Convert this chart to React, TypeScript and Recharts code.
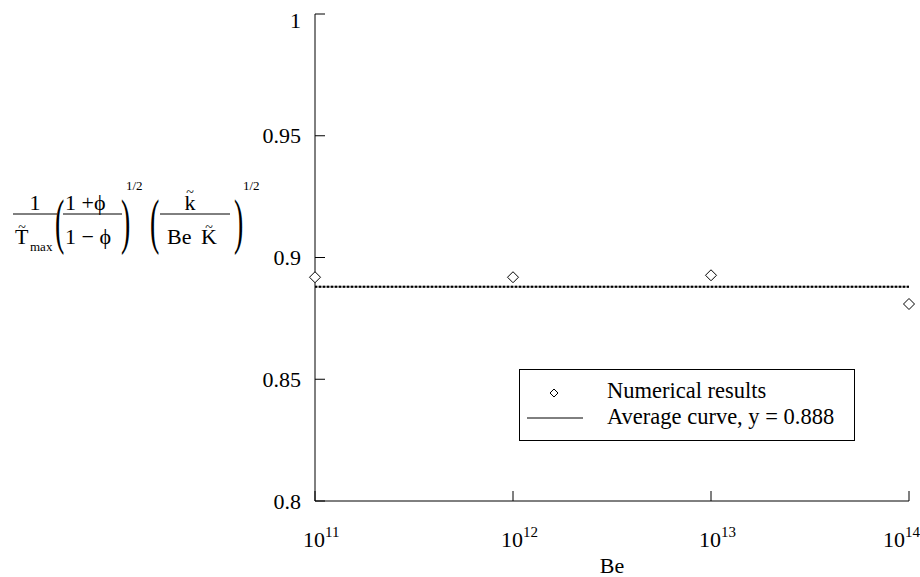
import { ComposedChart, Legend, Line, Scatter, XAxis, YAxis } from "recharts";

const beValues = [1e11, 1e12, 1e13, 1e14];
const numericalResults = [0.8919, 0.8919, 0.8927, 0.8809];
const averageValue = 0.888;
const xTicks = [1e11, 1e12, 1e13, 1e14];
const xTickExponents = ["11", "12", "13", "14"];
const yTicks = [0.8, 0.85, 0.9, 0.95, 1];
const yTickLabels = ["0.8", "0.85", "0.9", "0.95", "1"];

const data = beValues.map((be, i) => ({ be, value: numericalResults[i], avg: averageValue }));

const FONT = '"Liberation Serif", "Times New Roman", Times, "DejaVu Serif", serif';
const serif = { fontFamily: FONT };
const W = 920;
const H = 577;

function diamond(cx: number, cy: number, rx: number, ry: number) {
  return `M${cx},${cy - ry}L${cx + rx},${cy}L${cx},${cy + ry}L${cx - rx},${cy}Z`;
}

function BottomTick(props: any) {
  const { x, y, index } = props;
  const exp = xTickExponents[index] ?? "";
  const start = Math.min(x - 12, W - 37);
  return (
    <g>
      <line x1={x} y1={y} x2={x} y2={y - 10} stroke="#000" />
      <text x={start} y={y + 46} style={serif} fontSize={22} fill="#000">
        10
        <tspan dy={-10} fontSize={15}>{exp}</tspan>
      </text>
    </g>
  );
}

function TopTick(props: any) {
  const { x, y } = props;
  return <line x1={x} y1={y} x2={x} y2={y + 10} stroke="#000" />;
}

function LeftTick(props: any) {
  const { x, y, index } = props;
  const baseline = index === yTicks.length - 1 ? 28 : y + 7.5;
  return (
    <g>
      <line x1={x} y1={y} x2={x + 10} y2={y} stroke="#000" />
      <text x={x - 14} y={baseline} textAnchor="end" style={serif} fontSize={22} fill="#000">
        {yTickLabels[index]}
      </text>
    </g>
  );
}

function RightTick(props: any) {
  const { x, y } = props;
  return <line x1={x} y1={y} x2={x - 10} y2={y} stroke="#000" />;
}

function Paren({ x, y, close }: { x: number; y: number; close?: boolean }) {
  return (
    <text transform={`translate(${x},${y}) scale(0.45,1)`} style={serif} fontSize={62} fill="#000">
      {close ? ")" : "("}
    </text>
  );
}

// y-axis label: 1/T~max ((1+phi)/(1-phi))^1/2 (k~/(Be K~))^1/2
function FormulaLabel() {
  const t = { style: serif, fill: "#000" };
  return (
    <g>
      <text x={35} y={210} textAnchor="middle" fontSize={22} {...t}>1</text>
      <line x1={13} y1={214} x2={57} y2={214} stroke="#000" />
      <text x={22} y={232} textAnchor="middle" fontSize={14} {...t}>~</text>
      <text x={15} y={244} fontSize={22} {...t}>T</text>
      <text x={30} y={251} fontSize={13} {...t}>max</text>

      <Paren x={55} y={242} />
      <text x={65} y={210} fontSize={22} {...t}>1 +ϕ</text>
      <line x1={63} y1={214} x2={122} y2={214} stroke="#000" />
      <text x={65} y={244} fontSize={22} {...t}>1 − ϕ</text>
      <Paren x={121} y={242} close />
      <text x={126} y={190} fontSize={13} {...t}>1/2</text>

      <Paren x={150} y={242} />
      <text x={190} y={197} textAnchor="middle" fontSize={14} {...t}>~</text>
      <text x={190} y={210} textAnchor="middle" fontSize={22} {...t}>k</text>
      <line x1={160} y1={214} x2={230} y2={214} stroke="#000" />
      <text x={167} y={244} fontSize={22} {...t}>Be</text>
      <text x={209} y={244} textAnchor="middle" fontSize={22} {...t}>K</text>
      <text x={209} y={232} textAnchor="middle" fontSize={14} {...t}>~</text>
      <Paren x={234} y={242} close />
      <text x={243} y={190} fontSize={13} {...t}>1/2</text>
    </g>
  );
}

function LegendBox() {
  return (
    <svg width={336} height={72} style={{ display: "block" }}>
      <rect x={0.5} y={0.5} width={335} height={71} fill="#fff" stroke="#000" />
      <path d={diamond(35, 24, 4, 4)} fill="#fff" stroke="#000" />
      <text x={88} y={29} style={serif} fontSize={22.5} fill="#000">Numerical results</text>
      <line x1={8} y1={49} x2={64} y2={49} stroke="#000" />
      <text x={88} y={55} style={serif} fontSize={22.5} fill="#000">Average curve, y = 0.888</text>
    </svg>
  );
}

export default function App() {
  return (
    <div style={{ position: "absolute", left: 0, top: 0, width: W, height: H, background: "#fff" }}>
      <ComposedChart width={W} height={H} data={data} margin={{ top: 14, right: 11, bottom: 0, left: 0 }}>
        <XAxis
          xAxisId="b"
          dataKey="be"
          type="number"
          scale="log"
          domain={[1e11, 1e14]}
          ticks={xTicks}
          height={76}
          tickSize={0}
          tickMargin={0}
          tickLine={false}
          axisLine={{ stroke: "#000" }}
          tick={<BottomTick />}
          interval={0}
          label={{ value: "Be", position: "insideBottom", offset: 4, style: serif, fontSize: 22, fill: "#000" }}
        />
        <XAxis
          xAxisId="t"
          orientation="top"
          dataKey="be"
          type="number"
          scale="log"
          domain={[1e11, 1e14]}
          ticks={xTicks}
          height={0}
          tickSize={0}
          tickMargin={0}
          tickLine={false}
          axisLine={{ stroke: "#000" }}
          tick={<TopTick />}
          interval={0}
        />
        <YAxis
          yAxisId="l"
          type="number"
          domain={[0.8, 1]}
          ticks={yTicks}
          width={315}
          tickSize={0}
          tickMargin={0}
          tickLine={false}
          axisLine={{ stroke: "#000" }}
          tick={<LeftTick />}
          interval={0}
          label={<FormulaLabel />}
        />
        <YAxis
          yAxisId="r"
          orientation="right"
          type="number"
          domain={[0.8, 1]}
          ticks={yTicks}
          width={0}
          tickSize={0}
          tickMargin={0}
          tickLine={false}
          axisLine={{ stroke: "#000" }}
          tick={<RightTick />}
          interval={0}
        />
        <Legend
          layout="horizontal"
          verticalAlign="middle"
          align="center"
          width={336}
          height={72}
          wrapperStyle={{ left: 519, top: 369, width: 336, height: 72 }}
          content={() => <LegendBox />}
        />
        <Line
          xAxisId="b"
          yAxisId="l"
          dataKey="avg"
          type="linear"
          stroke="#8a8a8a"
          strokeWidth={2}
          dot={false}
          activeDot={false}
          legendType="none"
          isAnimationActive={false}
        />
        <Line
          xAxisId="b"
          yAxisId="l"
          dataKey="avg"
          type="linear"
          stroke="#000"
          strokeWidth={2}
          strokeDasharray="2 2"
          dot={false}
          activeDot={false}
          legendType="none"
          isAnimationActive={false}
        />
        <Scatter
          xAxisId="b"
          yAxisId="l"
          dataKey="value"
          isAnimationActive={false}
          shape={(p: any) => <path d={diamond(p.cx, p.cy, 5.5, 5.5)} fill="#fff" stroke="#000" />}
        />
      </ComposedChart>
    </div>
  );
}
